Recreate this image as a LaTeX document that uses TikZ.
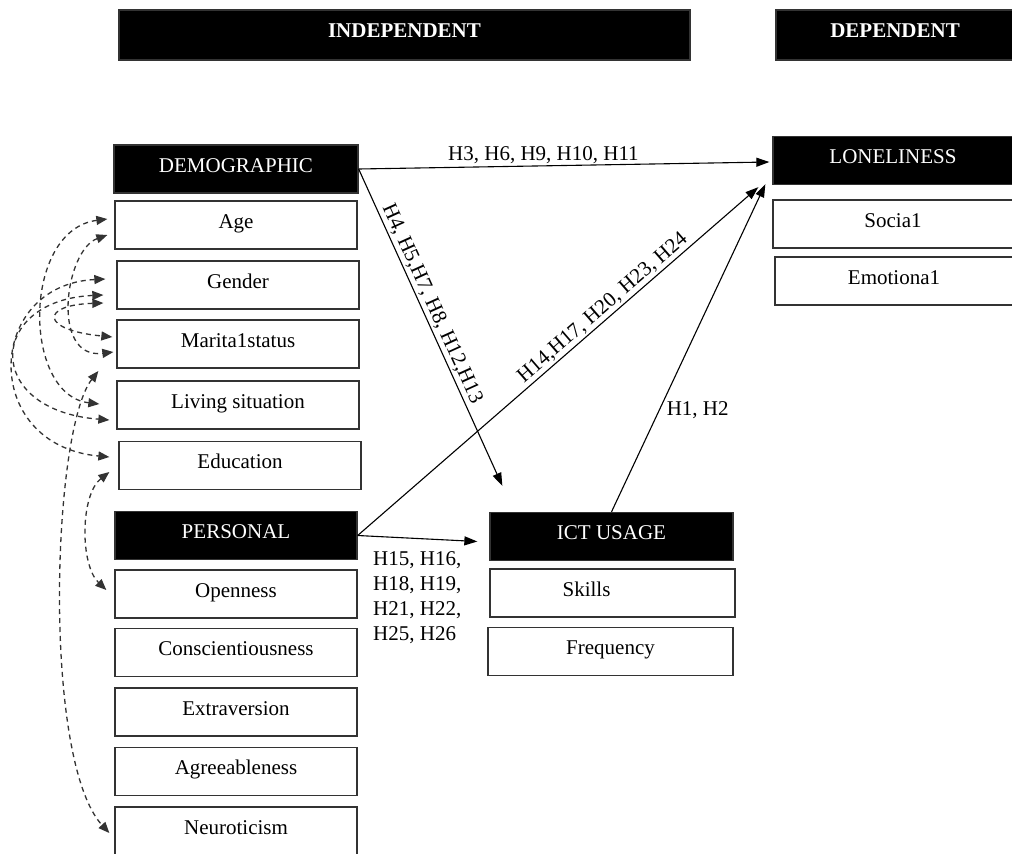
\documentclass[tikz,border=0pt]{standalone}
\usepackage{fontspec}
\setmainfont{Liberation Serif}
\usetikzlibrary{arrows.meta,calc}
\begin{document}
\begin{tikzpicture}[x=1pt,y=-1pt,
  box/.style={draw=black!80,line width=1.3pt,minimum width=242pt,minimum height=48pt,inner sep=0pt,
    font=\fontsize{21}{25}\selectfont,text height=14pt,text depth=8pt},
  head/.style={box,fill=black,text=white},
  arr/.style={line width=1.1pt,-{Triangle[length=13pt,width=9pt]}},
  dasharr/.style={line width=1.3pt,draw=black!80,dash pattern=on 5pt off 4pt,
    {Triangle[length=11pt,width=9pt]}-{Triangle[length=11pt,width=9pt]}},
  lab/.style={font=\fontsize{21}{25}\selectfont,inner sep=2pt}]
\fill[white] (0,0) rectangle (1012,854);
\useasboundingbox (0,0) rectangle (1012,854);

% top headers
\node[head,minimum width=571pt,minimum height=50pt,font=\bfseries\fontsize{21}{25}\selectfont,text depth=10pt] (indep) at (404.5,35) {INDEPENDENT};
\node[head,minimum width=238pt,minimum height=50pt,font=\bfseries\fontsize{21}{25}\selectfont,text depth=10pt] (dep) at (895,35) {DEPENDENT};

% demographic
\node[head,minimum width=244pt] (demo) at (236,169) {DEMOGRAPHIC};
\node[box] (age) at (236,225) {Age};
\node[box] (gender) at (238,285) {Gender};
\node[box] (marital) at (238,344) {Marita1status};
\node[box] (living) at (238,405) {Living situation};
\node[box] (edu) at (240,465.5) {Education};

% personal
\node[head] (pers) at (236,535.5) {PERSONAL};
\node[box] (open) at (236,594) {Openness};
\node[box] (consc) at (236,652.5) {Conscientiousness};
\node[box] (extra) at (236,712) {Extraversion};
\node[box] (agree) at (236,771.5) {Agreeableness};
\node[box] (neuro) at (236,831) {Neuroticism};

% loneliness
\node[head,minimum width=240pt] (lone) at (893,160.5) {LONELINESS};
\node[box,minimum width=240pt] (social) at (893,224) {Socia1};
\node[box,minimum width=238pt] (emot) at (894,281) {Emotiona1};

% ICT
\node[head,minimum width=243pt] (ict) at (611.5,536.5) {ICT USAGE};
\node[box,minimum width=245pt] (skills) at (612.5,593) {Skills\hspace*{52pt}};
\node[box,minimum width=245pt] (freq) at (610.5,651.5) {Frequency};

% solid arrows
\coordinate (tA) at ($(lone.west)+(-3,1.5)$);
\coordinate (tB) at ($(ict.north west)+(13,-26)$);
\coordinate (tC) at ($(lone.south west)+(-14,2)$);
\coordinate (tD) at ($(lone.south west)+(-7,-1)$);
\coordinate (tE) at ($(ict.west)+(-12,5)$);

\draw[arr] (demo.east) -- node[lab,above,pos=0.45] (l1) {H3, H6, H9, H10, H11} (tA);
\draw[arr] (demo.east) -- node[lab,above,sloped,pos=0.44] (l2) {H4, H5,H7, H8, H12,H13} (tB);
\draw[arr] (pers.east) -- node[lab,above,sloped,pos=0.63] (l3) {H14,H17, H20, H23, H24} (tC);
\draw[arr] (ict.north) -- node[lab,right,pos=0.31,xshift=5pt] (l4) {H1, H2} (tD);
\draw[arr] (pers.east) -- (tE);
\node[lab,anchor=north west,align=left,inner sep=0pt] (l5) at (373,551) {H15, H16,\\H18, H19,\\H21, H22,\\H25, H26};

% dashed correlation arrows
\coordinate (a1) at ($(age.west)+(-7,-6)$);
\coordinate (a2) at ($(age.west)+(-7,10)$);
\coordinate (g1) at ($(gender.west)+(-11,-6)$);
\coordinate (g2) at ($(gender.west)+(-13,10)$);
\coordinate (g3) at ($(gender.west)+(-13,18)$);
\coordinate (m1) at ($(marital.west)+(-4,-7)$);
\coordinate (m2) at ($(marital.west)+(-3,8)$);
\coordinate (m3) at ($(marital.west)+(-18,27)$);
\coordinate (lv1) at ($(living.west)+(-17,-1)$);
\coordinate (lv2) at ($(living.west)+(-7,15)$);
\coordinate (e1) at ($(edu.west)+(-9,-8.5)$);
\coordinate (e2) at ($(edu.west)+(-9,6.5)$);
\coordinate (o1) at ($(open.west)+(-8,-4)$);
\coordinate (n1) at ($(neuro.west)+(-5,2)$);

\draw[dasharr] (a1) .. controls (22,230) and (22,395) .. (lv1);
\draw[dasharr] (a2) .. controls (65,250) and (50,360) .. (m2);
\draw[dasharr] (g1) .. controls (-15,285) and (-20,445) .. (e1);
\draw[dasharr] (g2) .. controls (-12,300) and (-18,410) .. (lv2);
\draw[dasharr] (g3) .. controls (40,305) and (40,330) .. (m1);
\draw[dasharr] (m3) .. controls (52,430) and (42,760) .. (n1);
\draw[dasharr] (e2) .. controls (80,495) and (80,565) .. (o1);
\end{tikzpicture}
\end{document}
